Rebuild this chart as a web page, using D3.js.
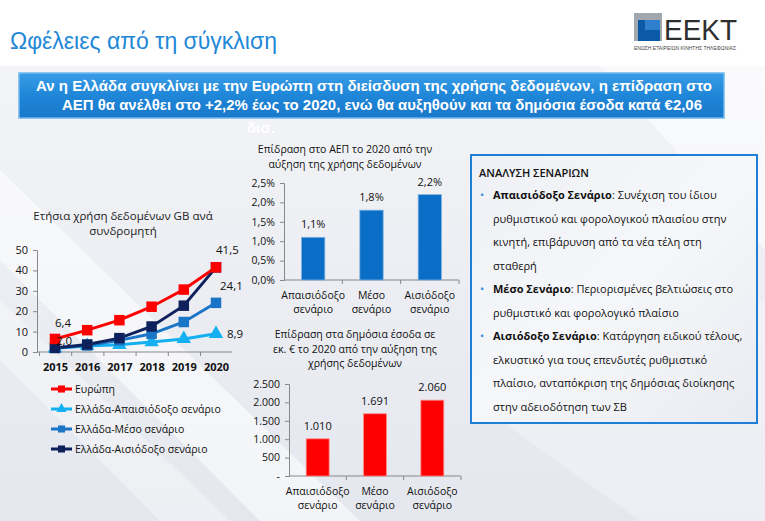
<!DOCTYPE html>
<html><head><meta charset="utf-8">
<script src="https://cdn.jsdelivr.net/npm/d3@7"></script>
<style>body{margin:0;background:#fff;} svg{display:block;font-family:"Liberation Sans",Arial,sans-serif;}</style>
</head><body>
<script>
// ---- data ----
const years = [2015, 2016, 2017, 2018, 2019, 2020];
const europe = [6.4, 10.7, 15.6, 22.2, 30.6, 41.5];
const grPessimistic = [1.8, 3.0, 3.5, 4.9, 6.4, 8.9];
const grMedium = [2.0, 3.2, 5.7, 8.9, 14.7, 24.1];
const grOptimistic = [2.0, 3.7, 6.8, 12.5, 22.7, 41.5];
const seriesNames = ["Ευρώπη", "Ελλάδα-Απαισιόδοξο σενάριο", "Ελλάδα-Μέσο σενάριο", "Ελλάδα-Αισιόδοξο σενάριο"];
const lineTicks = [0, 10, 20, 30, 40, 50];

const scenarios = [["Απαισιόδοξο", "σενάριο"], ["Μέσο", "σενάριο"], ["Αισιόδοξο", "σενάριο"]];
const gdpImpact = [0.011, 0.018, 0.022];
const gdpTicks = [0, 0.005, 0.01, 0.015, 0.02, 0.025];
const revenue = [1010, 1691, 2060];
const revenueTicks = [0, 500, 1000, 1500, 2000, 2500];

const W = 765, H = 521;
const svg = d3.select("body").append("svg").attr("width", W).attr("height", H);
const defs = svg.append("defs");

// background
const bg = defs.append("linearGradient").attr("id", "bg").attr("x1", 0).attr("y1", 0).attr("x2", 0).attr("y2", 1);
bg.append("stop").attr("offset", "0").attr("stop-color", "#f3f4f7");
bg.append("stop").attr("offset", "1").attr("stop-color", "#e4e7ee");
svg.append("rect").attr("width", W).attr("height", H).attr("fill", "#fff");
svg.append("rect").attr("y", 66).attr("width", W).attr("height", H - 66).attr("fill", "url(#bg)");
const streak = (pts, op) => svg.append("polygon").attr("points", pts).attr("fill", "#fff").attr("opacity", op);
streak("0,170 0,260 260,521 360,521", 0.55);
streak("0,300 0,360 160,521 230,521", 0.35);
streak("600,66 765,66 765,250", 0.5);
streak("500,420 765,300 765,521 640,521", 0.3);

// title
svg.append("text").attr("x", 10).attr("y", 49).attr("font-size", 23).attr("fill", "#1f88d8")
  .text("Ωφέλειες από τη σύγκλιση");

// logo
const logo = svg.append("g");
logo.append("rect").attr("x", 634).attr("y", 13).attr("width", 28).attr("height", 28).attr("fill", "#a3a8af");
logo.append("rect").attr("x", 638).attr("y", 20).attr("width", 22).attr("height", 21).attr("fill", "#0a5aa8");
logo.append("rect").attr("x", 645).attr("y", 20).attr("width", 15).attr("height", 10).attr("fill", "#2f7fcf");
logo.append("text").attr("x", 664).attr("y", 40).attr("font-size", 30)
  .attr("fill", "#2e2e2e").attr("textLength", 73).attr("lengthAdjust", "spacingAndGlyphs").text("ΕΕΚΤ");
logo.append("text").attr("x", 634).attr("y", 50).attr("font-size", 4.5).attr("fill", "#444")
  .attr("textLength", 102).attr("lengthAdjust", "spacingAndGlyphs").text("ΕΝΩΣΗ ΕΤΑΙΡΕΙΩΝ ΚΙΝΗΤΗΣ ΤΗΛΕΦΩΝΙΑΣ");

// banner
const bn = defs.append("linearGradient").attr("id", "bn").attr("x1", 0).attr("y1", 0).attr("x2", 0).attr("y2", 1);
bn.append("stop").attr("offset", "0").attr("stop-color", "#3a9ce6");
bn.append("stop").attr("offset", "0.5").attr("stop-color", "#1f86d8");
bn.append("stop").attr("offset", "1").attr("stop-color", "#1a78c9");
svg.append("rect").attr("x", 19).attr("y", 73).attr("width", 705).attr("height", 45)
  .attr("fill", "url(#bn)").attr("stroke", "#6fb8ee").attr("stroke-width", 1.5);
const bannerLines = [
  ["Αν η Ελλάδα συγκλίνει με την Ευρώπη στη διείσδυση της χρήσης δεδομένων, η επίδραση στο", 374, 91, 676],
  ["ΑΕΠ θα ανέλθει στο +2,2% έως το 2020, ενώ θα αυξηθούν και τα δημόσια έσοδα κατά €2,06", 382, 110, 640],
];
bannerLines.forEach(([t, x, y, L]) => svg.append("text").attr("x", x).attr("y", y).attr("text-anchor", "middle")
  .attr("font-size", 15.5).attr("font-weight", "bold").attr("fill", "#fff")
  .attr("textLength", L).attr("lengthAdjust", "spacingAndGlyphs").text(t));
svg.append("text").attr("x", 261).attr("y", 133).attr("text-anchor", "middle").attr("font-size", 15.5)
  .attr("font-weight", "bold").attr("fill", "#fff").text("δισ.");

// ---------- line chart ----------
const lc = svg.append("g").attr("font-family", "'Open Sans',sans-serif");
lc.append("text").attr("x", 123).attr("y", 220).attr("text-anchor", "middle").attr("font-size", 11.5).attr("fill", "#222")
  .text("Ετήσια χρήση δεδομένων GB ανά");
lc.append("text").attr("x", 123).attr("y", 235).attr("text-anchor", "middle").attr("font-size", 11.5).attr("fill", "#222")
  .text("συνδρομητή");
const lx = d3.scalePoint().domain(years).range([55, 216]);
const ly = d3.scaleLinear().domain([0, 50]).range([352, 250]);
const yAx = lc.append("g").attr("transform", "translate(37,0)")
  .call(d3.axisLeft(ly).tickValues(lineTicks).tickSize(4).tickPadding(5));
yAx.selectAll("text").attr("font-size", 11).attr("fill", "#111").attr("font-family", "'Open Sans',sans-serif");
const xAx = lc.append("g").attr("transform", "translate(0,352)")
  .call(d3.axisBottom(lx).tickSize(4).tickPadding(7).tickFormat(d3.format("d")));
xAx.select(".domain").attr("d", "M37,0H232");
xAx.selectAll(".tick line").attr("transform", "translate(-16,0)");
xAx.selectAll("text").attr("font-size", 11).attr("font-weight", "bold").attr("fill", "#111").attr("font-family", "'Open Sans',sans-serif");
lc.selectAll(".domain, .tick line").attr("stroke", "#888");

const lineSeries = [
  { vals: europe, color: "#ff0000", marker: "square" },
  { vals: grPessimistic, color: "#14b0f2", marker: "triangle" },
  { vals: grMedium, color: "#1b75c6", marker: "square" },
  { vals: grOptimistic, color: "#0e215c", marker: "square" },
];
const line = d3.line().x((d, i) => lx(years[i])).y(d => ly(d));
const drawOrder = [1, 2, 3, 0];
drawOrder.forEach(k => {
  const s = lineSeries[k];
  lc.append("path").attr("d", line(s.vals)).attr("fill", "none").attr("stroke", s.color).attr("stroke-width", 3);
});
drawOrder.forEach(k => {
  const s = lineSeries[k];
  const sym = d3.symbol().type(s.marker === "square" ? d3.symbolSquare : d3.symbolTriangle).size(s.marker === "square" ? 110 : 90);
  lc.selectAll(null).data(s.vals).enter().append("path")
    .attr("transform", (d, i) => `translate(${lx(years[i])},${ly(d)})`)
    .attr("d", sym).attr("fill", s.color);
});
// data labels
const lbl = (t, x, y) => lc.append("text").attr("x", x).attr("y", y).attr("font-size", 11.5).attr("fill", "#111").text(t);
lbl("6,4", lx(2015) + 0, ly(europe[0]) - 12);
lbl("2,0", lx(2015) + 1, ly(grOptimistic[0]) - 3);
lbl("41,5", lx(2020) + 0, ly(europe[5]) - 13);
lbl("24,1", lx(2020) + 4, ly(grMedium[5]) - 13);
lbl("8,9", lx(2020) + 11, ly(grPessimistic[5]) + 4);

// legend
const legY = [389, 409, 429, 449];
seriesNames.forEach((n, i) => {
  const s = lineSeries[i];
  const g = lc.append("g");
  g.append("line").attr("x1", 51).attr("x2", 72).attr("y1", legY[i]).attr("y2", legY[i]).attr("stroke", s.color).attr("stroke-width", 3);
  const sym = d3.symbol().type(s.marker === "square" ? d3.symbolSquare : d3.symbolTriangle).size(s.marker === "square" ? 50 : 45);
  g.append("path").attr("transform", `translate(61.5,${legY[i]})`).attr("d", sym).attr("fill", s.color);
  g.append("text").attr("x", 75).attr("y", legY[i] + 4).attr("font-size", 10.5).attr("fill", "#111").text(n);
});

// ---------- bar chart helper ----------
function barChart(opts) {
  const g = svg.append("g").attr("font-family", "'Open Sans',sans-serif");
  opts.title.forEach((t, i) => g.append("text").attr("x", opts.tx).attr("y", opts.ty + i * 14.5)
    .attr("text-anchor", "middle").attr("font-size", 10.5).attr("fill", "#111").text(t));
  const x = d3.scaleBand().domain(d3.range(3)).range([opts.x0, opts.x1]).paddingInner(0.6).paddingOuter(0.3);
  const y = d3.scaleLinear().domain([0, opts.max]).range([opts.y0, opts.y1]);
  const ya = g.append("g").attr("transform", `translate(${opts.x0},0)`)
    .call(d3.axisLeft(y).tickValues(opts.ticks).tickSize(4).tickPadding(5).tickFormat(opts.fmt));
  ya.selectAll("text").attr("font-size", 10.5).attr("fill", "#111").attr("font-family", "'Open Sans',sans-serif");
  const xa = g.append("g").attr("transform", `translate(0,${opts.y0})`)
    .call(d3.axisBottom(x).tickSize(4).tickFormat(""));
  xa.selectAll(".tick line").attr("transform", `translate(${x.step() / 2},0)`);
  xa.select(".domain").attr("d", `M${opts.x0},0H${opts.x1}`);
  g.selectAll(".domain, .tick line").attr("stroke", "#888");
  g.selectAll(".bar").data(opts.vals).enter().append("rect")
    .attr("x", (d, i) => x(i)).attr("width", x.bandwidth())
    .attr("y", d => y(d)).attr("height", d => opts.y0 - y(d)).attr("fill", opts.color)
    .attr("stroke", opts.stroke).attr("stroke-width", 0.8);
  g.selectAll(".vl").data(opts.vals).enter().append("text")
    .attr("x", (d, i) => x(i) + x.bandwidth() / 2).attr("y", d => y(d) - 9)
    .attr("text-anchor", "middle").attr("font-size", 11).attr("fill", "#111").text(opts.lfmt);
  scenarios.forEach((c, i) => c.forEach((t, j) => g.append("text")
    .attr("x", x(i) + x.bandwidth() / 2).attr("y", opts.y0 + 19 + j * 14)
    .attr("text-anchor", "middle").attr("font-size", 10.5).attr("fill", "#111").text(t)));
}
const pct = v => d3.format(".1f")(v * 100).replace(".", ",") + "%";
barChart({
  title: ["Επίδραση στο ΑΕΠ το 2020 από την", "αύξηση της χρήσης δεδομένων"], tx: 345, ty: 153,
  x0: 284, x1: 459, y0: 280, y1: 183, max: 0.025, ticks: gdpTicks,
  fmt: pct, lfmt: pct, vals: gdpImpact, color: "#0a6ec6", stroke: "#7fb2e0"
});
const thou = v => v === 0 ? "-" : d3.format(",")(v).replace(/,/g, ".");
barChart({
  title: ["Επίδραση στα δημόσια έσοδα σε", "εκ. € το 2020 από την αύξηση της", "χρήσης δεδομένων"], tx: 355, ty: 338,
  x0: 289, x1: 461, y0: 476, y1: 384, max: 2500, ticks: revenueTicks,
  fmt: thou, lfmt: thou, vals: revenue, color: "#ff0000", stroke: "#ff8a8a"
});

// ---------- text box ----------
const tb = svg.append("g").attr("font-family", "'Open Sans',sans-serif");
const tbg = defs.append("linearGradient").attr("id", "tbg").attr("x1", 0).attr("y1", 0).attr("x2", 1).attr("y2", 1);
tbg.append("stop").attr("offset", "0").attr("stop-color", "#eef0f5");
tbg.append("stop").attr("offset", "0.5").attr("stop-color", "#f6f7fa");
tbg.append("stop").attr("offset", "1").attr("stop-color", "#e8ebf1");
tb.append("rect").attr("x", 471).attr("y", 155).attr("width", 286).attr("height", 268)
  .attr("fill", "url(#tbg)").attr("stroke", "#1f7fd6").attr("stroke-width", 2);
tb.append("text").attr("x", 479).attr("y", 177).attr("font-size", 11).attr("font-weight", 600).attr("fill", "#111").text("ΑΝΑΛΥΣΗ ΣΕΝΑΡΙΩΝ");
const items = [
  ["Απαισιόδοξο Σενάριο", ": Συνέχιση του ίδιου", ["ρυθμιστικού και φορολογικού πλαισίου στην", "κινητή, επιβάρυνση από τα νέα τέλη στη", "σταθερή"]],
  ["Μέσο Σενάριο", ": Περιορισμένες βελτιώσεις στο", ["ρυθμιστικό και φορολογικό πλαίσιο"]],
  ["Αισιόδοξο Σενάριο", ": Κατάργηση ειδικού τέλους,", ["ελκυστικό για τους επενδυτές ρυθμιστικό", "πλαίσιο, ανταπόκριση της δημόσιας διοίκησης", "στην αδειοδότηση των ΣΒ"]],
];
let ly0 = 199;
const step = 23.5;
items.forEach(([b, r, rest]) => {
  tb.append("text").attr("x", 480).attr("y", ly0).attr("font-size", 11).attr("fill", "#2c8be0").text("•");
  const t = tb.append("text").attr("x", 493).attr("y", ly0).attr("font-size", 11).attr("fill", "#111");
  t.append("tspan").attr("font-weight", "bold").text(b);
  t.append("tspan").text(r);
  ly0 += step;
  rest.forEach(l => {
    tb.append("text").attr("x", 493).attr("y", ly0).attr("font-size", 11).attr("fill", "#111").text(l);
    ly0 += step;
  });
});
</script>
</body></html>
